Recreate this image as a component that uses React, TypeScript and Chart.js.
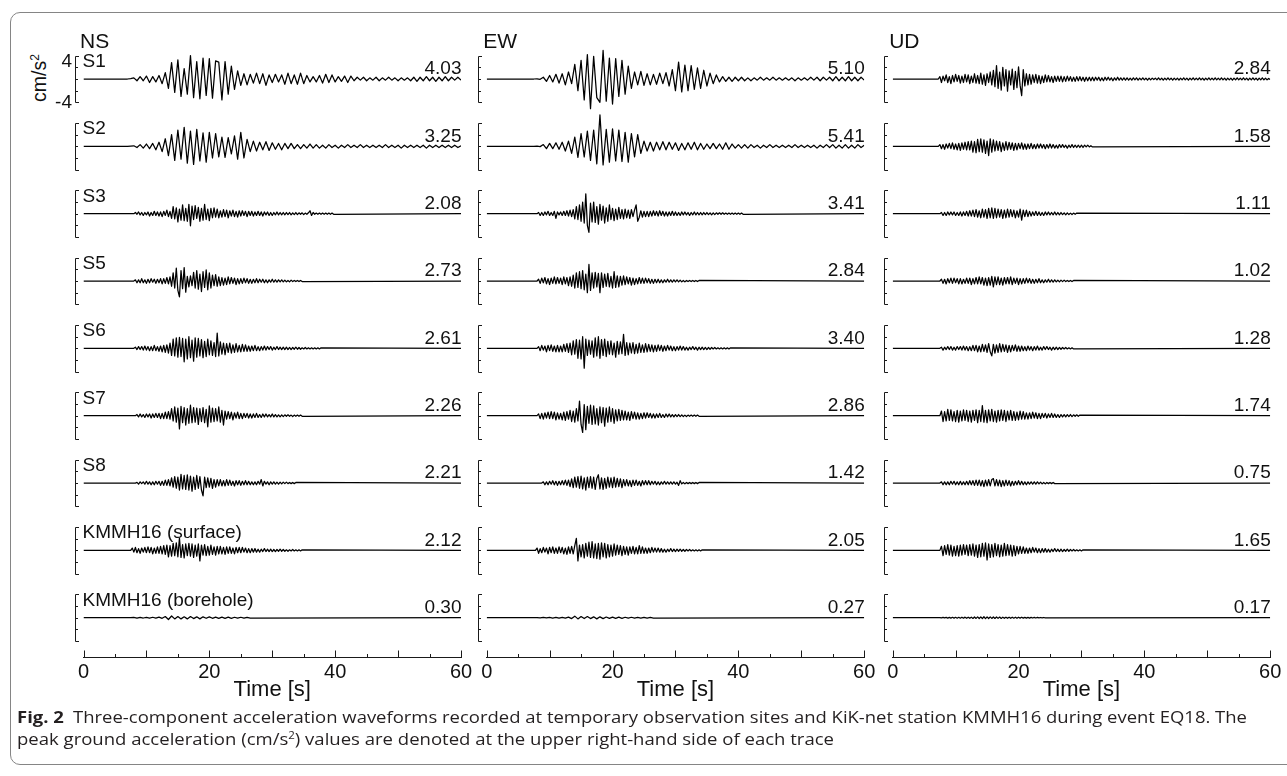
import React, { useEffect, useLayoutEffect, useRef } from "react";
import { Chart, registerables } from "chart.js";

Chart.register(...registerables);

// ---------------- DATA ----------------
// Every trace: first value at T0 s, then one value every DT s (cm/s^2).
// Before T0 and after its last value a trace sits on its baseline.
const T0 = 7;
const T_END = 60;

const COMPONENTS = ["NS", "EW", "UD"];
const STATIONS = ["S1", "S2", "S3", "S5", "S6", "S7", "S8", "KMMH16 (surface)", "KMMH16 (borehole)"];
const PGA_NS = ["4.03", "3.25", "2.08", "2.73", "2.61", "2.26", "2.21", "2.12", "0.30"];
const PGA_EW = ["5.10", "5.41", "3.41", "2.84", "3.40", "2.86", "1.42", "2.05", "0.27"];
const PGA_UD = ["2.84", "1.58", "1.11", "1.02", "1.28", "1.74", "0.75", "1.65", "0.17"];
const NS_DT = [0.5, 0.5, 0.25, 0.25, 0.25, 0.25, 0.25, 0.25, 0.5];
const EW_DT = [0.5, 0.5, 0.25, 0.25, 0.25, 0.25, 0.25, 0.25, 0.5];
const UD_DT = [0.25, 0.25, 0.25, 0.25, 0.25, 0.25, 0.25, 0.25, 0.25];
const X_TICKS = [0, 20, 40, 60];
const X_MINOR_STEP = 5;
const Y_BRACKET_TICKS = [-4, -2, 0, 2, 4];
const Y_TICK_LABELS = [4, -4];
const X_TITLE = "Time [s]";

const NS_S1 = [
  0, 0.05, 0.2, -0.3, 0.4, -0.3, 0.5, -0.6, 0.4, -0.5,
  0.6, -0.8, 1.1, -1.6, 2.8, -2.3, 3.3, -3.0, 1.8, -2.6,
  4.03, -3.2, 3.0, -3.4, 3.6, -2.8, 3.5, -3.3, 3.1, 2.9,
  -3.6, 3.0, -2.6, 2.2, -1.8, 1.4, -1.1, 0.9, -1.0, 0.8,
  -0.7, 1.0, -0.8, 0.9, -1.1, 0.7, -0.6, 0.8, -0.5, 0.7,
  -0.9, 1.0, -0.8, 0.7, -0.9, 1.0, -0.8, 0.6, -0.5, 0.4,
  -0.5, 0.6, -0.7, 0.8, -0.6, 0.7, -0.5, 0.4, -0.4, 0.5,
  -0.6, 0.5, -0.3, 0.3, -0.2, 0.3, -0.3, 0.2, -0.2, 0.3,
  -0.3, 0.2, -0.2, 0.3, -0.2, 0.2, -0.3, 0.2, -0.2, 0.2,
  -0.3, 0.3, -0.4, 0.3, -0.3, 0.4, -0.3, 0.3, -0.4, 0.3,
  -0.3, 0.4, -0.3, 0.3, -0.2, 0.3, -0.2,
];
const NS_S2 = [
  0, 0.05, 0.1, -0.2, 0.3, -0.3, 0.4, -0.4, 0.5, -0.6,
  0.7, -0.9, 1.3, -1.6, 2.0, -2.4, 2.8, -2.2, 3.25, -2.9,
  2.6, -3.1, 2.9, -2.5, 2.3, -2.7, 2.4, -2.0, 2.2, -1.8,
  1.6, -1.9, 1.5, -1.3, 1.8, -2.2, 2.4, -2.0, 1.2, -0.9,
  0.9, -0.8, 0.7, -0.6, 0.8, -0.7, 0.6, -0.5, 0.5, -0.6,
  0.5, -0.4, 0.5, -0.4, 0.3, -0.4, 0.3, -0.3, 0.4, -0.3,
  0.3, -0.3, 0.2, -0.3, 0.3, -0.2, 0.2, -0.3, 0.2, -0.2,
  0.3, -0.2, 0.2, -0.2, 0.3, -0.2, 0.2, -0.2, 0.2, -0.2,
  0.2, -0.2, 0.3, -0.2, 0.2, -0.2, 0.2, -0.3, 0.2, -0.2,
  0.2, -0.2, 0.2, -0.2, 0.2, -0.3, 0.2, -0.2, 0.2, -0.2,
  0.2, -0.2, 0.2, -0.2, 0.2, -0.2, 0.1,
];
const NS_S3 = [
  0, 0, 0, 0, 0, 0.2, -0.1, 0.3, -0.2, 0.2, -0.3, 0.2, -0.2, 0.3, -0.4, 0.2, -0.3, 0.4, -0.3, 0.3,
  -0.4, 0.3, -0.5, 0.4, -0.3, 0.6, -0.5, 0.4, -0.8, 1.2, -0.9, 1.0, -1.4, 0.8, -1.1, 1.5, -1.2, 0.9, -1.3, 1.6,
  -2.08, 1.3, -1.0, 1.4, -0.8, 1.1, -1.3, 0.9, -1.1, 1.6, -1.0, 0.8, -1.2, 0.9, -0.7, 1.0, -0.6, 0.8, -0.7, 0.5,
  -0.6, 0.7, -0.5, 0.6, -0.7, 0.5, -0.4, 0.6, -0.5, 0.4, -0.6, 0.5, -0.4, 0.5, -0.3, 0.4, -0.5, 0.4, -0.3, 0.4,
  -0.4, 0.3, -0.3, 0.4, -0.3, 0.3, -0.4, 0.3, -0.2, 0.3, -0.3, 0.2, -0.3, 0.2, -0.2, 0.3, -0.2, 0.2, -0.2, 0.2,
  -0.2, 0.2, -0.15, 0.2, -0.2, 0.15, -0.15, 0.2, -0.15, 0.15, -0.1, 0.15, -0.15, 0.1, -0.1, 0.15, 0.5, -0.3, 0.2, -0.1,
  0.1, -0.1, 0.1, -0.1, 0.1, -0.1, 0.1, -0.1, 0.1, -0.1, 0.1, -0.1,
];
const NS_S5 = [
  0, 0, 0, 0, 0, 0.2, -0.3, 0.2, -0.3, 0.4, -0.3, 0.2, -0.4, 0.3, -0.3, 0.4, -0.2, 0.3, -0.4, 0.3,
  -0.3, 0.4, -0.5, 0.4, -0.4, 0.6, -0.5, 0.7, -0.9, 1.4, -1.2, 2.2, -1.6, -2.73, 1.8, -1.3, 2.3, -1.9, 0.8, -1.0,
  0.9, -0.8, 1.5, -1.2, 1.8, -1.4, 1.2, -1.8, 1.6, -1.1, 1.9, -1.5, 1.4, -1.2, 1.0, -0.8, 1.1, -0.9, 0.7, -0.8,
  0.6, -0.7, 0.5, -0.6, 0.7, -0.5, 0.6, -0.4, 0.5, -0.6, 0.4, -0.5, 0.4, -0.4, 0.5, -0.3, 0.4, -0.4, 0.3, -0.4,
  0.3, -0.3, 0.4, -0.3, 0.3, -0.2, 0.3, -0.3, 0.2, -0.3, 0.2, -0.2, 0.3, -0.2, 0.2, -0.2, 0.2, -0.15, 0.2, -0.15,
  0.15, -0.15, 0.1, -0.15, 0.15, -0.1, 0.1, -0.1, 0.1, -0.1, 0.1, -0.1,
];
const NS_S6 = [
  0, 0, 0, 0, 0, 0.2, -0.2, 0.3, -0.2, 0.3, -0.3, 0.4, -0.3, 0.3, -0.4, 0.3, -0.4, 0.5, -0.4, 0.3,
  -0.5, 0.4, -0.6, 0.5, -0.7, 0.6, -0.8, 0.9, -1.2, 1.6, -1.3, 1.8, -1.5, 1.9, -1.4, 1.7, -2.3, 1.6, -1.8, 2.0,
  -1.6, 1.4, -2.2, 1.8, -1.5, 1.7, -1.3, 1.5, -1.6, 1.2, -1.4, 1.6, -1.1, 1.3, -1.2, 1.0, -1.4, 2.61, -1.3, 1.1,
  -1.0, 0.9, -1.1, 0.8, -0.7, 0.9, -0.8, 0.6, -0.7, 0.8, -0.6, 0.5, -0.6, 0.7, -0.5, 0.6, -0.5, 0.4, -0.5, 0.4,
  -0.4, 0.5, -0.4, 0.3, -0.4, 0.3, -0.3, 0.4, -0.3, 0.3, -0.2, 0.3, -0.3, 0.2, -0.2, 0.3, -0.2, 0.2, -0.2, 0.2,
  -0.2, 0.2, -0.2, 0.15, -0.2, 0.15, -0.15, 0.2, -0.15, 0.15, -0.15, 0.1, -0.1, 0.15, -0.1, 0.1,
  -0.1, 0.1, -0.1, 0.1, -0.1, 0.1, -0.1, 0.1,
];
const NS_S7 = [
  0, 0, 0, 0, 0, 0, 0.2, -0.2, 0.3, -0.2, 0.2, -0.3, 0.3, -0.2, 0.3, -0.4, 0.3, -0.3, 0.4, -0.3,
  0.4, -0.5, 0.4, -0.5, 0.6, -0.5, 0.7, -0.6, 1.2, -0.9, 1.5, -1.1, 1.3, -2.26, 1.6, -1.2, 1.4, -1.6, 1.2, -1.3,
  1.8, -1.2, 1.4, -1.1, 1.3, -1.5, 1.2, -1.0, 1.4, -1.2, 1.1, -1.9, 1.7, -1.1, 1.3, -1.0, 1.2, -0.9, 1.5, -1.1,
  0.9, -1.6, 0.8, -0.6, 0.7, -0.5, 0.6, -0.7, 0.5, -0.4, 0.6, -0.5, 0.4, -0.5, 0.4, -0.3, 0.4, -0.4, 0.3, -0.4,
  0.3, -0.3, 0.4, -0.3, 0.2, -0.3, 0.3, -0.2, 0.3, -0.2, 0.2, -0.2, 0.3, -0.2, 0.2, -0.2, 0.15, -0.2, 0.15, -0.15,
  0.15, -0.1, 0.15, -0.1, 0.1, -0.15, 0.1, -0.1, 0.1, -0.1, 0.1, -0.1,
];
const NS_S8 = [
  0, 0, 0, 0, 0, 0, 0.1, -0.2, 0.2, -0.1, 0.2, -0.2, 0.3, -0.2, 0.2, -0.3, 0.2, -0.3, 0.3, -0.2,
  0.3, -0.4, 0.3, -0.4, 0.5, -0.4, 0.6, -0.5, 0.9, -0.7, 1.1, -0.9, 1.0, -1.2, 1.5, -1.0, 1.3, -1.1, 1.4, -1.2,
  1.2, -1.4, 1.0, -1.1, 1.3, -0.9, 1.1, -1.2, -2.21, 1.0, -0.8, 0.9, -0.7, 0.8, -0.9, 0.6, -0.7, 0.6, -0.5, 0.6,
  -0.5, 0.4, -0.5, 0.6, -0.4, 0.5, -0.4, 0.3, -0.5, 0.4, -0.3, 0.4, -0.4, 0.3, -0.3, 0.4, -0.3, 0.3, -0.3, 0.2,
  -0.3, 0.2, -0.3, 0.3, -0.2, 0.6, -0.5, 0.3, -0.2, 0.2, -0.3, 0.2, -0.2, 0.2, -0.2, 0.15, -0.2, 0.15, -0.15, 0.15,
  -0.1, 0.15, -0.1, 0.1, -0.1, 0.1, -0.1, 0.1,
];
const NS_SURF = [
  0, 0, 0, 0.4, -0.3, 0.5, -0.4, 0.3, -0.5, 0.4, -0.3, 0.5, -0.4, 0.6, -0.4, 0.5, -0.6, 0.4, -0.5, 0.6,
  -0.5, 0.7, -0.6, 0.8, -0.7, 0.9, -1.1, 0.8, -1.0, 1.2, -0.9, 1.3, -1.1, 2.12, -1.2, 1.0, -1.3, 1.1, -0.9, 1.2,
  -1.0, 1.1, -1.2, 0.9, -1.0, 1.1, -1.8, 0.9, -0.8, 1.0, -0.9, 0.7, -0.8, 0.9, -0.7, 0.6, -0.8, 0.7, -0.6, 0.7,
  -0.6, 0.5, -0.7, 0.6, -0.5, 0.6, -0.5, 0.4, -0.6, 0.5, -0.4, 0.5, -0.4, 0.5, -0.3, 0.4, -0.4, 0.3, -0.4, 0.3,
  -0.3, 0.3, -0.3, 0.2, -0.3, 0.2, -0.2, 0.3, -0.2, 0.2, -0.2, 0.2, -0.2, 0.15, -0.2, 0.15, -0.15, 0.2, -0.15, 0.15,
  -0.15, 0.1, -0.15, 0.1, -0.1, 0.15, -0.1, 0.1, -0.1, 0.1, -0.1, 0.1,
];
const NS_BORE = [
  0, 0.02, 0.05, -0.05, 0.05, -0.05, 0.06, -0.06, 0.08, -0.08,
  0.1, -0.1, 0.2, -0.3, 0.3, -0.2, 0.2, -0.2, 0.15, -0.2,
  0.2, -0.15, 0.15, -0.2, 0.15, -0.1, 0.15, -0.1, 0.1, -0.1,
  0.1, -0.1, 0.1, -0.1, 0.08, -0.08, 0.08, -0.08, 0.06, -0.06,
];

const EW_S1 = [
  0, 0, 0.02, -0.05, 0.3, -0.4, 0.6, -0.5, 0.8, -0.7,
  0.9, -1.0, 1.2, -0.8, 2.5, -2.0, 3.2, -3.6, 4.2, -5.1,
  3.9, -3.2, -4.0, 4.9, -3.8, 3.6, -4.3, 3.5, -3.0, 3.2,
  -2.6, 2.2, -1.6, 1.2, -1.0, 1.3, -1.1, 0.9, -1.0, 0.8,
  -0.9, 1.0, -0.8, 1.1, -1.2, 1.6, -2.0, 2.9, -2.2, 2.4,
  -2.0, 2.3, -1.8, 1.9, -1.6, 1.5, -1.2, 1.0, -0.8, 0.7,
  -0.5, 0.4, -0.4, 0.3, -0.4, 0.3, -0.3, 0.3, -0.3, 0.2,
  -0.3, 0.2, -0.2, 0.3, -0.2, 0.2, -0.2, 0.3, -0.2, 0.2,
  -0.2, 0.2, -0.2, 0.2, -0.3, 0.2, -0.2, 0.2, -0.2, 0.3,
  -0.2, 0.3, -0.3, 0.3, -0.2, 0.3, -0.3, 0.4, -0.3, 0.3,
  -0.3, 0.4, -0.3, 0.3, -0.3, 0.3, -0.2,
];
const EW_S2 = [
  0, 0, 0.03, -0.05, 0.3, -0.4, 0.5, -0.4, 0.6, -0.5,
  0.7, -0.8, 0.9, -1.2, 1.6, -1.9, 2.2, -1.8, 2.6, -2.4,
  2.8, -3.0, 5.41, -3.2, 2.9, -2.7, 3.0, -2.5, 2.8, -2.6,
  2.4, -2.7, 2.2, -1.8, 2.0, -1.2, 0.9, -0.8, 0.7, -0.8,
  0.7, -0.6, 0.8, -0.6, 0.7, -0.5, 0.6, -0.7, 0.5, -0.6,
  0.6, -0.5, 0.7, -0.6, 0.5, -0.5, 0.4, -0.4, 0.5, -0.4,
  0.4, -0.5, 0.6, -0.5, 0.4, -0.3, 0.3, -0.3, 0.3, -0.3,
  0.3, -0.2, 0.2, -0.3, 0.2, -0.2, 0.3, -0.2, 0.2, -0.2,
  0.2, -0.2, 0.2, -0.2, 0.3, -0.2, 0.2, -0.2, 0.2, -0.2,
  0.2, -0.3, 0.2, -0.2, 0.3, -0.2, 0.3, -0.3, 0.2, -0.3,
  0.3, -0.3, 0.2, -0.3, 0.3, -0.2, 0.2,
];
const EW_S3 = [
  0, 0, 0, 0, 0, 0.2, -0.3, 0.2, -0.3, 0.3, -0.2, 0.4, -0.3, 0.2, -0.3, 0.4, -0.8, 0.3, -0.2, 0.3,
  -0.3, 0.4, -0.3, 0.5, -0.4, 0.6, -0.5, 0.7, -0.9, 1.2, -1.0, 1.5, -1.3, 2.0, -1.6, 3.41, -2.0, -3.2, 1.8, -1.4,
  2.0, -1.5, 1.2, -1.8, 1.6, -1.1, 1.3, -1.6, 1.0, -1.3, 1.5, -1.0, 0.9, -1.2, 0.8, -1.0, 1.1, -0.8, 0.7, -0.9,
  0.8, -0.7, 0.6, -0.8, 0.7, -0.5, 0.6, 1.5, -1.3, -0.6, 0.5, -0.6, 0.4, -0.5, 0.4, -0.5, 0.4, -0.4, 0.5, -0.3,
  0.4, -0.4, 0.5, -0.3, 0.4, -0.4, 0.3, -0.4, 0.3, -0.3, 0.4, -0.3, 0.3, -0.3, 0.2, -0.3, 0.3, -0.2, 0.3, -0.2,
  0.2, -0.3, 0.2, -0.2, 0.3, -0.2, 0.2, -0.2, 0.2, -0.2, 0.2, -0.15, 0.2, -0.15, 0.15, -0.2, 0.15, -0.15, 0.15, -0.1,
  0.15, -0.1, 0.15, -0.1, 0.1, -0.1, 0.1, -0.1, 0.1, -0.1, 0.1, -0.1, 0.1, -0.1, 0.1, -0.1,
];
const EW_S5 = [
  0, 0, 0, 0, 0, 0.3, -0.4, 0.5, -0.3, 0.6, -0.5, 0.4, -0.6, 0.5, -0.4, 0.7, -0.5, 0.6, -0.4, 0.5,
  -0.6, 0.7, -0.5, 0.6, -0.8, 0.7, -0.9, 1.0, -1.2, 1.4, -1.1, 1.6, -1.3, 1.8, -1.5, 1.2, -2.0, 2.84, -1.6, 1.4,
  -1.2, 1.5, -1.0, 1.3, -2.0, 1.4, -1.1, 1.2, -0.9, 1.3, -1.0, 0.8, -1.2, 1.6, -1.1, 0.9, -1.0, 0.8, -0.7, 0.9,
  -0.6, 0.7, -0.5, 0.6, -0.7, 0.5, -0.6, 0.4, -0.5, 0.6, -0.4, 0.5, -0.4, 0.5, -0.3, 0.4, -0.4, 0.3, -0.4, 0.3,
  -0.3, 0.3, -0.3, 0.2, -0.3, 0.2, -0.2, 0.3, -0.2, 0.2, -0.2, 0.2, -0.15, 0.2, -0.15, 0.15, -0.15, 0.1, -0.15, 0.1,
  -0.1, 0.1, -0.1, 0.1, -0.1, 0.1, -0.1, 0.1,
];
const EW_S6 = [
  0, 0, 0, 0, 0, 0.3, -0.4, 0.5, -0.3, 0.4, -0.6, 0.5, -0.4, 0.6, -0.5, 0.4, -0.6, 0.5, -0.6, 0.4,
  -0.6, 0.7, -0.5, 0.8, -0.7, 0.9, -1.1, 1.3, -1.0, 1.5, -1.7, 1.4, -1.8, 2.0, -3.4, 1.6, -1.2, 1.4, -1.0, 1.3,
  -1.5, 1.8, -1.3, 2.0, -1.7, 1.5, -1.2, 1.6, -1.4, 1.2, -1.0, 1.3, -1.1, 0.9, -1.5, 1.2, -1.0, 1.1, -0.9, 2.4,
  -1.2, 1.0, -1.1, 0.9, -0.8, 1.0, -0.9, 0.7, -0.8, 0.9, -0.7, 0.6, -0.7, 0.8, -0.6, 0.7, -0.5, 0.6, -0.6, 0.5,
  -0.5, 0.6, -0.4, 0.5, -0.5, 0.4, -0.4, 0.5, -0.3, 0.4, -0.4, 0.3, -0.4, 0.3, -0.3, 0.4, -0.3, 0.3, -0.3, 0.2,
  -0.3, 0.2, -0.2, 0.3, -0.2, 0.2, -0.3, 0.2, -0.2, 0.2, -0.2, 0.15, -0.2, 0.15, -0.15, 0.15, -0.1, 0.15, -0.1, 0.1,
  -0.1, 0.1, -0.1, 0.1, -0.1, 0.1, -0.1, 0.1,
];
const EW_S7 = [
  0, 0, 0, 0, 0, 0.3, -0.5, 0.4, -0.6, 0.5, -0.4, 0.6, -0.5, 0.7, -0.5, 0.6, -0.7, 0.5, -0.6, 0.4,
  -0.7, 0.6, -0.8, 0.7, -0.6, 0.9, -1.0, 0.8, -1.1, 1.2, -0.9, 2.5, -1.5, -2.86, 1.9, -2.4, 1.6, -1.3, 1.8, -1.5,
  1.7, -1.4, 1.2, -1.6, 1.5, -1.2, 1.4, -1.8, 1.3, -1.1, 1.5, -1.0, 1.2, -1.3, 1.0, -0.9, 1.1, -0.8, 0.9, -0.7,
  0.8, -0.7, 0.6, -0.8, 0.7, -0.5, 0.6, -0.6, 0.5, -0.6, 0.4, -0.5, 0.5, -0.4, 0.5, -0.3, 0.4, -0.4, 0.3, -0.4,
  0.3, -0.3, 0.4, -0.3, 0.2, -0.3, 0.3, -0.2, 0.3, -0.2, 0.2, -0.2, 0.2, -0.15, 0.2, -0.15, 0.15, -0.15, 0.1, -0.15,
  0.1, -0.1, 0.1, -0.1, 0.1, -0.1, 0.1, -0.1,
];
const EW_S8 = [
  0, 0, 0, 0, 0, 0, 0, 0, 0.2, -0.3, 0.2, -0.3, 0.3, -0.2, 0.4, -0.3, 0.3, -0.4, 0.3, -0.3,
  0.4, -0.3, 0.5, -0.4, 0.5, -0.6, 0.7, -0.8, 1.0, -0.7, 1.1, -0.9, 1.2, -1.0, 0.9, -1.2, 1.0, -0.8, 1.1, -0.9,
  1.0, -1.1, 0.8, 1.42, -1.0, 0.9, -1.1, 0.8, -0.9, 1.0, -0.7, 0.9, -0.8, 1.0, -0.7, 0.8, -0.6, 0.7, -0.8, 0.6,
  -0.5, 0.6, -0.5, 0.4, -0.6, 0.5, -0.4, 0.5, -0.4, 0.3, -0.5, 0.4, -0.3, 0.4, -0.3, 0.4, -0.3, 0.3, -0.2, 0.3,
  -0.3, 0.2, -0.3, 0.2, -0.2, 0.3, -0.2, 0.2, -0.2, 0.2, -0.2, 0.2, -0.2, 0.15, -0.4, 0.4, -0.15, 0.1, -0.15, 0.1,
  -0.1, 0.1, -0.1, 0.1, -0.1, 0.1, -0.1, 0.1,
];
const EW_SURF = [
  0, 0, 0, 0, 0.4, -0.5, 0.3, -0.4, 0.5, -0.3, 0.4, -0.6, 0.5, -0.4, 0.6, -0.5, 0.4, -0.5, 0.6, -0.4,
  0.5, -0.6, 0.4, -0.7, 0.6, -0.5, 0.7, -0.6, 0.8, 2.05, -1.8, 0.9, -1.1, 1.0, -1.3, 1.2, -1.0, 1.4, -1.2, 1.5,
  -1.3, 1.1, -1.4, 1.2, -1.5, 1.3, -1.1, 1.2, -1.3, 1.0, -1.1, 0.9, -1.0, 1.1, -0.8, 0.9, -0.7, 0.8, -0.9, 0.7,
  -0.7, 0.6, -0.8, 0.6, -0.5, 0.7, -0.6, 0.5, -0.6, 0.8, -0.5, 0.6, -0.5, 0.4, -0.5, 0.4, -0.4, 0.5, -0.3, 0.4,
  -0.3, 0.4, -0.3, 0.3, -0.3, 0.2, -0.3, 0.2, -0.2, 0.3, -0.2, 0.2, -0.2, 0.2, -0.15, 0.2, -0.15, 0.15, -0.15, 0.15,
  -0.1, 0.15, -0.1, 0.1, -0.1, 0.1, -0.1, 0.1, -0.1, 0.1,
];
const EW_BORE = [
  0, 0, 0.03, -0.03, 0.04, -0.04, 0.05, -0.05, 0.05, -0.06,
  0.06, -0.08, 0.1, -0.15, 0.27, -0.2, 0.2, -0.15, 0.2, -0.15,
  0.15, -0.2, 0.15, -0.15, 0.12, -0.12, 0.1, -0.1, 0.1, -0.1,
  0.08, -0.08, 0.08, -0.06, 0.06, -0.06, 0.05, -0.05, 0.05, -0.05,
];

const UD_S1 = [
  0, 0, 0.4, -0.6, 0.5, -0.3, 0.7, -0.6, 0.4, -0.8, 0.6, -0.5, 0.8, -0.4, 0.6, -0.7, 0.5, -0.6, 0.8, -0.5,
  0.7, -0.8, 0.5, -0.6, 0.9, -0.7, 0.6, -0.8, 1.0, -0.9, 0.7, -1.1, 0.9, -0.6, 1.2, -1.0, 1.5, -1.3, 2.3, -1.6,
  1.2, -1.9, 2.0, -1.2, 1.6, -2.1, 1.4, -1.0, 1.7, -1.8, 1.3, -1.5, 2.1, -1.1, -2.84, 1.6, -1.2, 0.9, -1.0, 0.8,
  -0.9, 0.7, -0.6, 0.8, -0.7, 0.6, -0.8, 0.5, -0.6, 0.7, -0.5, 0.6, -0.5, 0.4, -0.6, 0.5, -0.4, 0.5, -0.4, 0.5,
  -0.5, 0.4, -0.4, 0.5, -0.3, 0.4, -0.4, 0.3, -0.4, 0.4, -0.3, 0.4, -0.3, 0.3, -0.4, 0.3, -0.3, 0.3, -0.3, 0.3,
  -0.3, 0.3, -0.2, 0.3, -0.3, 0.2, -0.3, 0.3, -0.2, 0.3, -0.2, 0.2, -0.3, 0.2, -0.2, 0.3, -0.2, 0.2, -0.2, 0.2,
  -0.2, 0.2, -0.2, 0.15, -0.2, 0.2, -0.15, 0.2, -0.2, 0.15, -0.15, 0.2, -0.15, 0.15, -0.2, 0.15, -0.15, 0.15, -0.1, 0.15,
  -0.15, 0.2, -0.15, 0.15, -0.2, 0.15, -0.15, 0.2, -0.15, 0.15, -0.2, 0.15, -0.15, 0.15, -0.2, 0.15, -0.15, 0.2, -0.15, 0.15,
  -0.2, 0.15, -0.15, 0.2, -0.15, 0.15, -0.15, 0.2, -0.15, 0.15, -0.2, 0.15, -0.15, 0.2, -0.15, 0.15, -0.15, 0.2, -0.15, 0.15,
  -0.15, 0.2, -0.15, 0.15, -0.2, 0.15, -0.15, 0.15, -0.2, 0.15, -0.15, 0.2, -0.15, 0.15, -0.15, 0.2, -0.15, 0.15, -0.2, 0.15,
  -0.15, 0.2, -0.15, 0.15, -0.2, 0.15, -0.15, 0.2, -0.15, 0.15, -0.15, 0.1, -0.1,
];
const UD_S2 = [
  0, 0, 0.3, -0.4, 0.3, -0.5, 0.4, -0.3, 0.5, -0.4, 0.6, -0.5, 0.4, -0.6, 0.5, -0.7, 0.6, -0.5, 0.7, -0.6,
  0.8, -0.6, 0.9, -1.0, 0.8, -1.1, 1.2, -0.9, 1.3, -1.0, 1.1, -1.2, 0.9, -1.58, 1.3, -1.0, 1.1, -0.8, 0.9, -0.7,
  0.8, -0.9, 0.6, -0.7, 0.8, -0.6, 0.7, -0.5, 0.6, -0.7, 0.5, -0.6, 0.5, -0.4, 0.6, -0.5, 0.4, -0.5, 0.4, -0.4,
  0.5, -0.4, 0.3, -0.4, 0.4, -0.3, 0.4, -0.3, 0.3, -0.4, 0.3, -0.3, 0.4, -0.3, 0.3, -0.3, 0.2, -0.3, 0.3, -0.2,
  0.3, -0.2, 0.2, -0.3, 0.2, -0.2, 0.3, -0.2, 0.2, -0.2, 0.2, -0.2, 0.2, -0.2, 0.2, -0.1, 0.2, -0.1, 0.1, -0.1,
];
const UD_S3 = [
  0, 0, 0, 0.2, -0.3, 0.2, -0.3, 0.3, -0.2, 0.3, -0.2, 0.3, -0.3, 0.2, -0.3, 0.3, -0.4, 0.3, -0.3, 0.4,
  -0.4, 0.5, -0.4, 0.6, -0.5, 0.7, -0.6, 0.5, -0.7, 0.8, -0.6, 0.7, -0.8, 0.9, -0.7, 1.0, -0.8, 0.9, -0.7, 0.8,
  -0.6, 0.7, -0.8, 0.6, -0.7, 0.8, -0.6, 0.7, -0.5, 0.6, -0.7, 0.5, -0.6, 0.8, -1.11, 0.6, -0.5, 0.6, -0.5, 0.4,
  -0.4, 0.3, -0.3, 0.4, -0.3, 0.3, -0.3, 0.2, -0.3, 0.3, -0.2, 0.3, -0.2, 0.2, -0.2, 0.3, -0.2, 0.2, -0.2, 0.2,
  -0.15, 0.15, -0.2, 0.15, -0.15, 0.1, -0.15, 0.1, -0.1, 0.1,
];
const UD_S5 = [
  0, 0, 0, 0.3, -0.4, 0.3, -0.5, 0.4, -0.3, 0.5, -0.4, 0.5, -0.3, 0.4, -0.5, 0.4, -0.5, 0.3, -0.4, 0.5,
  -0.4, 0.5, -0.6, 0.4, -0.5, 0.6, -0.5, 0.7, -0.5, 0.6, -0.7, 0.5, -0.8, 0.6, -0.7, 0.8, -1.02, 0.7, -0.6, 0.7,
  -0.6, 0.5, -0.7, 0.6, -0.5, 0.6, -0.5, 0.7, -0.6, 0.5, -0.4, 0.5, -0.6, 0.4, -0.5, 0.4, -0.4, 0.5, -0.3, 0.4,
  -0.4, 0.3, -0.4, 0.3, -0.3, 0.4, -0.3, 0.2, -0.3, 0.2, -0.2, 0.3, -0.2, 0.2, -0.2, 0.2, -0.15, 0.15, -0.15, 0.15,
  -0.1, 0.15, -0.1, 0.1, -0.1, 0.1, -0.1, 0.1,
];
const UD_S6 = [
  0, 0, 0, 0.2, -0.3, 0.2, -0.2, 0.3, -0.2, 0.3, -0.3, 0.2, -0.3, 0.3, -0.2, 0.3, -0.3, 0.4, -0.3, 0.3,
  -0.4, 0.3, -0.4, 0.5, -0.4, 0.5, -0.6, 0.4, -0.6, 0.7, -0.5, 0.6, -0.7, 0.8, -0.6, -1.28, 0.7, -0.8, 0.6, -0.7,
  0.8, -0.6, 0.7, -0.5, 0.6, -0.7, 0.5, -0.6, 0.5, -0.4, 0.6, -0.5, 0.4, -0.5, 0.4, -0.4, 0.3, -0.4, 0.4, -0.3,
  0.3, -0.4, 0.3, -0.3, 0.4, -0.3, 0.2, -0.3, 0.3, -0.2, 0.3, -0.2, 0.2, -0.3, 0.2, -0.2, 0.2, -0.2, 0.15, -0.15,
  0.15, -0.1, 0.15, -0.1, 0.1, -0.1, 0.1, -0.1,
];
const UD_S7 = [
  0, 0, 0, 0.8, -1.0, 0.7, -0.9, 1.1, -0.8, 1.0, -0.9, 0.7, -1.0, 0.9, -1.1, 0.8, -0.9, 1.0, -0.8, 0.9,
  -1.0, 0.8, -1.1, 0.9, -0.8, 1.0, -1.2, 0.9, -1.0, 1.74, -1.1, 0.9, -1.2, 1.0, -0.9, 1.1, -1.0, 0.8, -1.1, 0.9,
  -0.9, 1.0, -0.8, 0.9, -1.0, 0.8, -0.7, 0.9, -0.8, 0.7, -0.8, 0.6, -0.7, 0.8, -0.6, 0.7, -0.6, 0.5, -0.6, 0.5,
  -0.5, 0.6, -0.4, 0.5, -0.5, 0.4, -0.5, 0.4, -0.3, 0.4, -0.4, 0.3, -0.3, 0.4, -0.3, 0.3, -0.3, 0.2, -0.3, 0.2,
  -0.2, 0.2, -0.2, 0.2, -0.15, 0.2, -0.15, 0.15, -0.1, 0.15, -0.1, 0.1,
];
const UD_S8 = [
  0, 0, 0, 0.2, -0.3, 0.2, -0.3, 0.2, -0.3, 0.3, -0.2, 0.3, -0.3, 0.2, -0.3, 0.3, -0.3, 0.2, -0.3, 0.3,
  -0.3, 0.4, -0.3, 0.4, -0.4, 0.5, -0.4, 0.5, -0.5, 0.4, -0.6, 0.5, -0.5, 0.6, -0.5, 0.6, 0.75, -0.5, 0.6, -0.5,
  0.5, -0.6, 0.4, -0.5, 0.5, -0.4, 0.4, -0.5, 0.3, -0.4, 0.3, -0.3, 0.4, -0.3, 0.3, -0.3, 0.2, -0.3, 0.2, -0.2,
  0.2, -0.2, 0.2, -0.2, 0.2, -0.15, 0.15, -0.15, 0.1, -0.15, 0.1, -0.1, 0.1, -0.1, 0.1, -0.1,
];
const UD_SURF = [
  0, 0, 0, 0.7, -0.9, 0.8, -0.7, 1.0, -0.8, 0.9, -1.0, 0.7, -0.9, 0.8, -1.0, 0.9, -0.8, 1.0, -0.7, 0.9,
  -0.9, 1.0, -0.8, 1.1, -1.0, 0.9, -1.2, 1.0, -1.1, 1.2, -1.0, 1.3, -1.65, 1.1, -1.2, 1.0, -1.1, 1.2, -0.9, 1.0,
  -1.1, 0.9, -1.0, 1.2, -0.9, 1.0, -0.8, 0.9, -1.0, 0.8, -0.9, 0.7, -0.6, 0.7, -0.5, 0.6, -0.5, 0.4, -0.5, 0.4,
  -0.4, 0.5, -0.3, 0.4, -0.4, 0.3, -0.4, 0.3, -0.3, 0.3, -0.3, 0.2, -0.3, 0.2, -0.2, 0.3, -0.2, 0.2, -0.2, 0.2,
  -0.2, 0.15, -0.15, 0.2, -0.15, 0.15, -0.1, 0.15, -0.1, 0.1, -0.1, 0.1, -0.1, 0.1,
];
const UD_BORE = [
  0, 0, 0.03, -0.04, 0.05, -0.04, 0.05, -0.06, 0.05, -0.06, 0.07, -0.06, 0.07, -0.08, 0.07, -0.08, 0.09, -0.08, 0.1, -0.09,
  0.1, -0.11, 0.1, -0.12, 0.13, -0.12, 0.14, -0.13, 0.15, -0.14, 0.17, -0.15, 0.14, -0.13, 0.14, -0.12, 0.13, -0.12, 0.12, -0.11,
  0.11, -0.12, 0.1, -0.11, 0.1, -0.1, 0.09, -0.1, 0.09, -0.08, 0.08, -0.09, 0.08, -0.07, 0.08, -0.07, 0.06, -0.07, 0.06, -0.06,
  0.06, -0.05, 0.05, -0.05, 0.05, -0.04, 0.04, -0.04, 0.04, -0.03,
];

const NS_TRACES = [NS_S1, NS_S2, NS_S3, NS_S5, NS_S6, NS_S7, NS_S8, NS_SURF, NS_BORE];
const EW_TRACES = [EW_S1, EW_S2, EW_S3, EW_S5, EW_S6, EW_S7, EW_S8, EW_SURF, EW_BORE];
const UD_TRACES = [UD_S1, UD_S2, UD_S3, UD_S5, UD_S6, UD_S7, UD_S8, UD_SURF, UD_BORE];
const COLUMN_TRACES = [NS_TRACES, EW_TRACES, UD_TRACES];
const COLUMN_DT = [NS_DT, EW_DT, UD_DT];
const COLUMN_PGA = [PGA_NS, PGA_EW, PGA_UD];

const CAPTION_BOLD = "Fig. 2";
const CAPTION_LINE1 = "Three-component acceleration waveforms recorded at temporary observation sites and KiK-net station KMMH16 during event EQ18. The";
const CAPTION_LINE2_A = "peak ground acceleration (cm/s";
const CAPTION_LINE2_B = ") values are denoted at the upper right-hand side of each trace";

// ---------------- LAYOUT ----------------
const PAGE_W = 1287;
const PAGE_H = 776;
const FONT = '"Liberation Sans", Arial, Helvetica, sans-serif';
const CAP_FONT = '"Open Sans", "Noto Sans", sans-serif';
const COL_X0 = [83.5, 486.7, 892.7];
const PLOT_W = 377.5;
const PAD = 16;
const PLOT_TOP = 45;
const AXIS_Y = 657;
const BASE0 = 79;
const ROW_PX = 67.34;
const UNIT_PX = 5.83;
const CANVAS_H = 720;
const X_AXIS_H = 30;
const BRACKET_GAP = 8.5;

const ROW_UNITS = ROW_PX / UNIT_PX;
const Y_MAX = (BASE0 - PLOT_TOP) / UNIT_PX;
const Y_MIN = -(AXIS_Y - BASE0) / UNIT_PX;
const baseY = (k: number) => BASE0 + k * ROW_PX;

function WaveColumn({ col }: { col: number }) {
  const ref = useRef<HTMLCanvasElement | null>(null);
  const left = Math.round(COL_X0[col] - PAD);
  const padL = COL_X0[col] - left;
  const width = Math.round(PLOT_W + 2 * PAD);
  const padR = width - padL - PLOT_W;

  useEffect(() => {
    if (!ref.current) return;
    const traces = COLUMN_TRACES[col];
    const dts = COLUMN_DT[col];
    const datasets = traces.map((arr, k) => {
      const off = -k * ROW_UNITS;
      const dt = dts[k];
      const pts: { x: number; y: number }[] = [{ x: 0, y: off }];
      arr.forEach((v, i) => pts.push({ x: T0 + i * dt, y: v + off }));
      const lastT = T0 + (arr.length - 1) * dt;
      if (lastT < T_END) pts.push({ x: T_END, y: off });
      return {
        label: STATIONS[k],
        data: pts,
        borderColor: "#000",
        borderWidth: 1.25,
        borderJoinStyle: "round" as const,
        pointRadius: 0,
        fill: false,
        tension: 0,
      };
    });

    const axesPlugin = {
      id: "brackets",
      afterDraw(chart: any) {
        const { ctx, chartArea, scales } = chart;
        const xs = scales.x;
        const ys = scales.y;
        ctx.save();
        ctx.strokeStyle = "#1a1a1a";
        ctx.lineWidth = 1;
        const bx = Math.round(chartArea.left - BRACKET_GAP) + 0.5;
        for (let k = 0; k < traces.length; k++) {
          const off = -k * ROW_UNITS;
          const yTop = Math.round(ys.getPixelForValue(Y_BRACKET_TICKS[Y_BRACKET_TICKS.length - 1] + off)) + 0.5;
          const yBot = Math.round(ys.getPixelForValue(Y_BRACKET_TICKS[0] + off)) + 0.5;
          ctx.beginPath();
          ctx.moveTo(bx, yTop);
          ctx.lineTo(bx, yBot);
          Y_BRACKET_TICKS.forEach((t) => {
            const py = Math.round(ys.getPixelForValue(t + off)) + 0.5;
            const len = Math.abs(t) === 4 ? 3.5 : 2.5;
            ctx.moveTo(bx, py);
            ctx.lineTo(bx + len, py);
          });
          ctx.stroke();
        }
        ctx.beginPath();
        const yb = Math.round(chartArea.bottom) + 0.5;
        for (let t = 0; t <= T_END; t += X_MINOR_STEP) {
          const px = Math.round(xs.getPixelForValue(t)) + 0.5;
          const len = t % 10 === 0 ? 7 : 3.5;
          ctx.moveTo(px, yb);
          ctx.lineTo(px, yb - len);
        }
        ctx.stroke();
        ctx.restore();
      },
    };

    const chart = new Chart(ref.current, {
      type: "line",
      data: { datasets },
      options: {
        responsive: false,
        animation: false,
        devicePixelRatio: 1,
        events: [],
        parsing: false,
        normalized: true,
        layout: {
          padding: { left: padL, right: padR, top: PLOT_TOP, bottom: CANVAS_H - AXIS_Y - X_AXIS_H },
        },
        plugins: {
          legend: { display: false },
          tooltip: { enabled: false },
          title: { display: false },
        },
        scales: {
          x: {
            type: "linear",
            position: "bottom",
            min: 0,
            max: T_END,
            afterFit: (s: any) => {
              s.height = X_AXIS_H;
            },
            afterBuildTicks: (s: any) => {
              s.ticks = X_TICKS.map((v) => ({ value: v }));
            },
            grid: { display: false, drawTicks: false },
            border: { display: true, color: "#1a1a1a", width: 1 },
            ticks: {
              autoSkip: false,
              maxRotation: 0,
              padding: 3,
              color: "#111",
              font: { family: FONT, size: 20 },
            },
          },
          y: { type: "linear", display: false, min: Y_MIN, max: Y_MAX },
        },
      },
      plugins: [axesPlugin],
    } as any);
    return () => chart.destroy();
  }, [col]);

  return (
    <canvas
      ref={ref}
      width={width}
      height={CANVAS_H}
      style={{ position: "absolute", left, top: 0, width, height: CANVAS_H }}
    />
  );
}

function Txt(props: {
  x: number;
  cy: number;
  size: number;
  align?: "left" | "right" | "center";
  children: React.ReactNode;
}) {
  const { x, cy, size, align = "left", children } = props;
  const style: React.CSSProperties = {
    position: "absolute",
    top: cy - size * 0.48,
    fontFamily: FONT,
    fontSize: size,
    lineHeight: `${size}px`,
    color: "#111",
    whiteSpace: "nowrap",
  };
  if (align === "left") style.left = x;
  else if (align === "right") style.right = PAGE_W - x;
  else {
    style.left = x;
    style.transform = "translateX(-50%)";
  }
  return <div style={style}>{children}</div>;
}

function FitLine(props: { left: number; cy: number; width: number; size: number; children: React.ReactNode }) {
  const ref = useRef<HTMLDivElement | null>(null);
  useLayoutEffect(() => {
    const el = ref.current;
    if (!el) return;
    el.style.transform = "none";
    const w = el.getBoundingClientRect().width;
    if (w > 0) el.style.transform = `scaleX(${props.width / w})`;
  }, []);
  return (
    <div
      ref={ref}
      style={{
        position: "absolute",
        left: props.left,
        top: props.cy - props.size * 0.62,
        fontFamily: CAP_FONT,
        fontSize: props.size,
        lineHeight: `${props.size}px`,
        color: "#231f20",
        whiteSpace: "nowrap",
        transformOrigin: "0 50%",
      }}
    >
      {props.children}
    </div>
  );
}

export default function App() {
  return (
    <div
      style={{
        position: "absolute",
        left: 0,
        top: 0,
        width: PAGE_W,
        height: PAGE_H,
        overflow: "hidden",
        background: "#fff",
      }}
    >
      <div
        style={{
          position: "absolute",
          left: 10,
          top: 12,
          width: 1300,
          height: 753,
          border: "1.5px solid #858585",
          borderRadius: 10,
          boxSizing: "border-box",
        }}
      />
      {COMPONENTS.map((c, i) => (
        <WaveColumn key={c} col={i} />
      ))}
      {COMPONENTS.map((c, i) => (
        <Txt key={"h" + c} x={COL_X0[i] - 3.5} cy={40} size={21}>
          {c}
        </Txt>
      ))}
      {STATIONS.map((s, k) => (
        <Txt key={"s" + k} x={COL_X0[0] - 1} cy={baseY(k) - 19} size={19}>
          {s}
        </Txt>
      ))}
      {COLUMN_PGA.map((arr, i) =>
        arr.map((v, k) => (
          <Txt key={"p" + i + "-" + k} x={COL_X0[i] + PLOT_W + 0.5} cy={baseY(k) - 11.5} size={19} align="right">
            {v}
          </Txt>
        ))
      )}
      <Txt x={72} cy={60} size={19} align="right">
        {String(Y_TICK_LABELS[0])}
      </Txt>
      <Txt x={72} cy={101.5} size={19} align="right">
        {String(Y_TICK_LABELS[1])}
      </Txt>
      <div
        style={{
          position: "absolute",
          left: 38.5,
          top: 78,
          transform: "translate(-50%, -50%) rotate(-90deg)",
          fontFamily: FONT,
          fontSize: 19.5,
          lineHeight: "20px",
          color: "#111",
          whiteSpace: "nowrap",
        }}
      >
        cm/s<sup style={{ fontSize: "0.62em", lineHeight: 0, verticalAlign: "0.55em" }}>2</sup>
      </div>
      {COMPONENTS.map((c, i) => (
        <Txt key={"t" + c} x={COL_X0[i] + PLOT_W / 2} cy={689} size={22} align="center">
          {X_TITLE}
        </Txt>
      ))}
      <FitLine left={17} cy={719} width={1230} size={16.5}>
        <b style={{ fontWeight: 700 }}>{CAPTION_BOLD}</b>
        {"\u2002" + CAPTION_LINE1}
      </FitLine>
      <FitLine left={17} cy={741} width={817} size={16.5}>
        {CAPTION_LINE2_A}
        <sup style={{ fontSize: "0.62em", lineHeight: 0, verticalAlign: "0.55em" }}>2</sup>
        {CAPTION_LINE2_B}
      </FitLine>
    </div>
  );
}
